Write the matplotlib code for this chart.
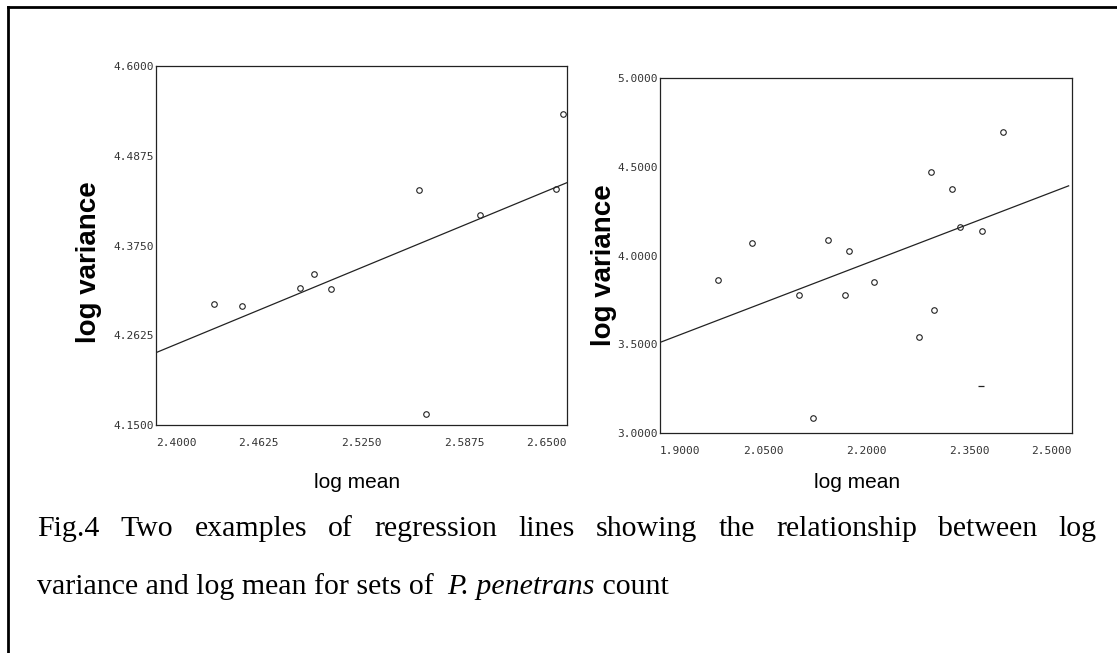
import numpy as np
import matplotlib
matplotlib.use("Agg")
import matplotlib.pyplot as plt
from matplotlib.lines import Line2D

W, H = 1117, 653

# ---- data ----
# left panel
left_mean = [2.4353, 2.4523, 2.4877, 2.4960, 2.5062, 2.5600, 2.5645, 2.5971, 2.6431, 2.6478]
left_var = [4.3013, 4.2996, 4.3213, 4.3389, 4.3205, 4.4446, 4.1634, 4.4128, 4.4458, 4.5398]
left_fit_x = [2.4000, 2.6500]
left_fit_y = [4.2407, 4.4538]
left_xticks = [2.4, 2.4625, 2.525, 2.5875, 2.65]
left_xlabels = ["2.4000", "2.4625", "2.5250", "2.5875", "2.6500"]
left_yticks = [4.15, 4.2625, 4.375, 4.4875, 4.6]
left_ylabels = ["4.1500", "4.2625", "4.3750", "4.4875", "4.6000"]

# right panel
right_mean = [1.9840, 2.0338, 2.1020, 2.1227, 2.1449, 2.1691, 2.1746, 2.2111,
              2.2768, 2.2951, 2.2985, 2.3247, 2.3375, 2.3691, 2.4002]
right_var = [3.8598, 4.0692, 3.7776, 3.0841, 4.0860, 3.7776, 4.0262, 3.8523,
             3.5421, 4.4710, 3.6935, 4.3720, 4.1607, 4.1402, 4.6972]
# one point printed as a dash in the scan
right_dash_mean = [2.3677]
right_dash_var = [3.2673]
right_fit_x = [1.9000, 2.4951]
right_fit_y = [3.5103, 4.3925]
right_xticks = [1.9, 2.05, 2.2, 2.35, 2.5]
right_xlabels = ["1.9000", "2.0500", "2.2000", "2.3500", "2.5000"]
right_yticks = [3.0, 3.5, 4.0, 4.5, 5.0]
right_ylabels = ["3.0000", "3.5000", "4.0000", "4.5000", "5.0000"]


def fx(px):
    return px / W


def fy(py):
    return 1 - py / H


def setup_axes(ax, xticks, xlabels, yticks, ylabels):
    ax.set_xlim(xticks[0], xticks[-1])
    ax.set_ylim(yticks[0], yticks[-1])
    ax.set_xticks(xticks)
    ax.set_xticklabels(xlabels, family="DejaVu Sans Mono", fontsize=8, color="#333333")
    ax.set_yticks(yticks)
    ax.set_yticklabels(ylabels, family="DejaVu Sans Mono", fontsize=8, color="#333333")
    ax.tick_params(axis="both", length=0)
    ax.tick_params(axis="x", pad=9)
    ax.tick_params(axis="y", pad=1.5)
    # first x label starts at the left edge, last one ends at the right edge
    labs = ax.get_xticklabels()
    labs[0].set_horizontalalignment("left")
    labs[-1].set_horizontalalignment("right")
    for s in ax.spines.values():
        s.set_linewidth(0.9)
        s.set_color("#222222")


fig = plt.figure(figsize=(W / 100, H / 100), dpi=100)
fig.patch.set_facecolor("white")

# left panel (pixels 156..567 x 66..425)
ax1 = fig.add_axes([fx(156), fy(425), fx(567 - 156), (425 - 66) / H])
ax1.plot(left_fit_x, left_fit_y, color="#222222", lw=0.9)
ax1.plot(left_mean, left_var, "o", ms=4, mfc="none", mec="#222222", mew=0.8)
setup_axes(ax1, left_xticks, left_xlabels, left_yticks, left_ylabels)

# right panel (pixels 660..1072 x 78..433)
ax2 = fig.add_axes([fx(660), fy(433), fx(1072 - 660), (433 - 78) / H])
ax2.plot(right_fit_x, right_fit_y, color="#222222", lw=0.9)
ax2.plot(right_mean, right_var, "o", ms=4, mfc="none", mec="#222222", mew=0.8)
ax2.plot(right_dash_mean, right_dash_var, "_", ms=5, mec="#222222", mew=0.9)
setup_axes(ax2, right_xticks, right_xlabels, right_yticks, right_ylabels)

# axis titles
for x in (357, 857):
    fig.text(fx(x), fy(483), "log mean", family="Liberation Sans", fontsize=15,
             ha="center", va="center")
for x, y in ((89, 262), (604, 265)):
    fig.text(fx(x), fy(y), "log variance", family="Liberation Sans", fontsize=20,
             fontweight="bold", rotation=90, ha="center", va="center")

# border of the figure box (only top and left survive in the crop)
fig.add_artist(Line2D([fx(8), 1], [fy(7), fy(7)], color="black", lw=2))
fig.add_artist(Line2D([fx(8), fx(8)], [fy(7), 0], color="black", lw=2))

# caption, first line justified between x=37 and x=1097
renderer = fig.canvas.get_renderer()
cap_size = 21.5
line1 = "Fig.4 Two examples of regression lines showing the relationship between log".split()
texts = [fig.text(0, fy(536), w, family="Liberation Serif", fontsize=cap_size, va="baseline")
         for w in line1]
widths = [t.get_window_extent(renderer).width for t in texts]
gap = (1097 - 37 - sum(widths)) / (len(texts) - 1)
x = 37
for t, w in zip(texts, widths):
    t.set_x(fx(x))
    x += w + gap

# second line, with the species name in italics
parts = [("variance and log mean for sets of ", "normal"),
         ("P. penetrans", "italic"),
         (" count", "normal")]
x = 37
for s, style in parts:
    t = fig.text(fx(x), fy(594), s, family="Liberation Serif", fontsize=cap_size,
                 style=style, va="baseline")
    x += t.get_window_extent(renderer).width
    if style == "normal" and s.endswith(" "):
        x += 6

fig.savefig("out.png", dpi=100)
